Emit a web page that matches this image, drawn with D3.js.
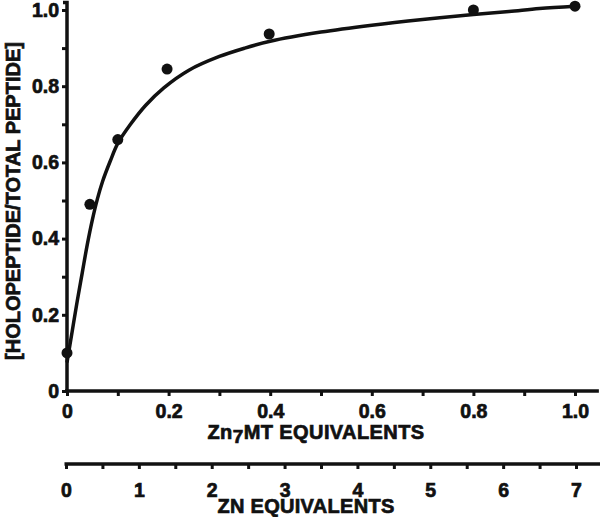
<!DOCTYPE html>
<html><head><meta charset="utf-8">
<script src="https://cdn.jsdelivr.net/npm/d3@7"></script>
<style>
body{margin:0;background:#fff;}
svg text{font-family:"Liberation Sans",Arial,Helvetica,sans-serif;font-weight:bold;fill:#111;stroke:#111;stroke-width:0.7px;}
</style></head>
<body><svg id="c" width="600" height="517"></svg>
<script>
// Measured data points
const pointX = [0, 0.045, 0.10, 0.197, 0.398, 0.80, 1.0];
const pointY = [0.10, 0.49, 0.66, 0.845, 0.937, 1.0, 1.01];
// Fitted curve
const curveX = [0, 0.01, 0.02, 0.03, 0.04, 0.05, 0.06, 0.07, 0.085, 0.10, 0.125, 0.155, 0.19, 0.24, 0.30, 0.35, 0.40, 0.50, 0.60, 0.70, 0.80, 0.87, 0.93, 1.0];
const curveY = [0.075, 0.155, 0.235, 0.31, 0.385, 0.45, 0.505, 0.55, 0.603, 0.65, 0.70, 0.75, 0.795, 0.842, 0.878, 0.90, 0.918, 0.942, 0.96, 0.975, 0.988, 0.996, 1.004, 1.01];
// Ticks
const yTicks = [0, 0.1, 0.2, 0.3, 0.4, 0.5, 0.6, 0.7, 0.8, 0.9, 1.0];
const yLabels = ["0", "", "0.2", "", "0.4", "", "0.6", "", "0.8", "", "1.0"];
const xTicks = [0, 0.1, 0.2, 0.3, 0.4, 0.5, 0.6, 0.7, 0.8, 0.9, 1.0];
const xLabels = ["0", "", "0.2", "", "0.4", "", "0.6", "", "0.8", "", "1.0"];
const znTicks = [0, 0.5, 1, 1.5, 2, 2.5, 3, 3.5, 4, 4.5, 5, 5.5, 6, 6.5, 7];
const znLabels = ["0", "", "1", "", "2", "", "3", "", "4", "", "5", "", "6", "", "7"];
const yTitle = "[HOLOPEPTIDE/TOTAL PEPTIDE]";
const xTitleParts = ["Zn", "7", "MT EQUIVALENTS"];
const znTitle = "ZN EQUIVALENTS";

const svg = d3.select("#c");
const x = d3.scaleLinear().domain([0, 1]).range([67, 575]);
const y = d3.scaleLinear().domain([0, 1]).range([391, 10]);
const xz = d3.scaleLinear().domain([0, 7]).range([66, 576]);
const zY = 464;
const ink = "#111";

function styleAxis(g){
  g.selectAll(".tick line").attr("stroke", ink).attr("stroke-width", 3);
  g.selectAll(".tick text").attr("font-size", 19.5).attr("fill", ink);
  g.select(".domain").remove();
}

// Y axis
const yAxis = d3.axisLeft(y).tickValues(yTicks).tickSize(5).tickPadding(3)
  .tickFormat((d,i) => yLabels[i]);
svg.append("g").attr("transform", `translate(${x(0)},0)`).call(yAxis).call(styleAxis);
svg.append("path")
  .attr("d", `M${x(0)},${y(0) + 2}V${y(1.02)}h-4`)
  .attr("fill", "none").attr("stroke", ink).attr("stroke-width", 3.5);

// X axis (Zn7MT)
const xAxis = d3.axisBottom(x).tickValues(xTicks).tickSize(5).tickPadding(8)
  .tickFormat((d,i) => xLabels[i]);
svg.append("g").attr("transform", `translate(0,${y(0)})`).call(xAxis).call(styleAxis);
svg.append("line").attr("x1", x(0) - 2).attr("x2", x(1.047)).attr("y1", y(0)).attr("y2", y(0))
  .attr("stroke", ink).attr("stroke-width", 3.5);

// Zn axis
const zAxis = d3.axisBottom(xz).tickValues(znTicks).tickSize(5).tickPadding(14)
  .tickFormat((d,i) => znLabels[i]);
svg.append("g").attr("transform", `translate(0,${zY})`).call(zAxis).call(styleAxis);
svg.append("line").attr("x1", xz(0) - 1.5).attr("x2", xz(7.33)).attr("y1", zY).attr("y2", zY)
  .attr("stroke", ink).attr("stroke-width", 3.5);

// Curve
const curveData = curveX.map((v,i) => [v, curveY[i]]);
svg.append("path").datum(curveData)
  .attr("d", d3.line().x(d => x(d[0])).y(d => y(d[1])).curve(d3.curveCatmullRom.alpha(0.5)))
  .attr("fill", "none").attr("stroke", ink).attr("stroke-width", 3.5).attr("stroke-linejoin", "round");

// Points
svg.selectAll("circle.pt").data(pointX.map((v,i) => [v, pointY[i]])).enter()
  .append("circle").attr("class", "pt")
  .attr("cx", d => x(d[0])).attr("cy", d => y(d[1])).attr("r", 5.5).attr("fill", ink);

// Titles
svg.append("text").attr("transform", "translate(20,201) rotate(-90)")
  .attr("text-anchor", "middle").attr("font-size", 20).text(yTitle);

const xt = svg.append("text").attr("x", 316).attr("y", 439).attr("text-anchor", "middle")
  .attr("font-size", 20).attr("letter-spacing", 0.4);
xt.append("tspan").text(xTitleParts[0]);
xt.append("tspan").attr("dy", 4).attr("font-size", 19).text(xTitleParts[1]);
xt.append("tspan").attr("dy", -4).text(xTitleParts[2]);

svg.append("text").attr("x", 306).attr("y", 512.5).attr("text-anchor", "middle").attr("font-size", 20)
  .attr("letter-spacing", 0.3).text(znTitle);
</script></body></html>
